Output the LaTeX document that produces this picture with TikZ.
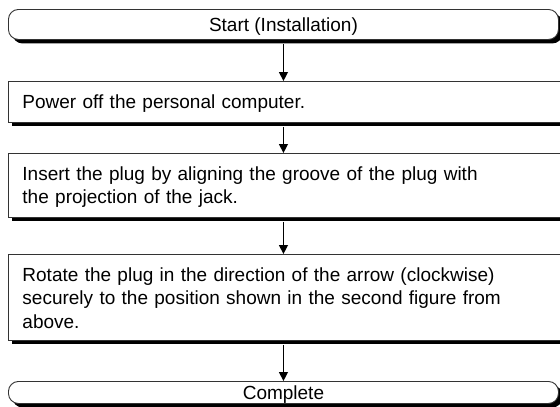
\documentclass[tikz,border=0pt]{standalone}
\usepackage{fontspec}
\setmainfont{Liberation Sans}
\usetikzlibrary{arrows.meta,shadows}

\begin{document}
\begin{tikzpicture}[
    x=1pt, y=-1pt,
    font=\fontsize{19}{23.5}\selectfont,
    boxshadow/.style={drop shadow={shadow xshift=4pt, shadow yshift=-4pt, fill=black, opacity=1}},
    termbox/.style={draw=black!80, line width=0.9pt, fill=white, boxshadow, rounded corners=10pt,
        minimum width=550pt, inner sep=0pt, anchor=north west},
    stepbox/.style={draw=black!80, line width=0.9pt, fill=white, boxshadow, text width=542pt,
        inner xsep=14pt, inner ysep=0pt, align=left, text height=27pt, anchor=north west},
    flow/.style={-{Triangle[width=9pt,length=9pt]}, line width=1.3pt}
]
\clip (0,0) rectangle (560,407);
% Start
\node[termbox, text height=22pt, text depth=8pt] (start) at (8,9) {Start (Installation)};
% steps
\node[stepbox, text depth=14pt] (power) at (8,81) {Power off the personal computer.};
\node[stepbox, text depth=37pt] (insert) at (8,153) {Insert the plug by aligning the groove of the plug with\\the projection of the jack.};
\node[stepbox, text depth=59pt] (rotate) at (8,254) {Rotate the plug in the direction of the arrow (clockwise)\\securely to the position shown in the second figure from\\above.};
% Complete
\node[termbox, text height=18pt, text depth=4pt] (done) at (8,381) {Complete};

\draw[flow] (start.south) ++(0,4) -- (power.north -| start.south);
\draw[flow] (power.south -| start.south) ++(0,4) -- (insert.north -| start.south);
\draw[flow] (insert.south -| start.south) ++(0,4) -- (rotate.north -| start.south);
\draw[flow] (rotate.south -| start.south) ++(0,4) -- (done.north);
\end{tikzpicture}
\end{document}
